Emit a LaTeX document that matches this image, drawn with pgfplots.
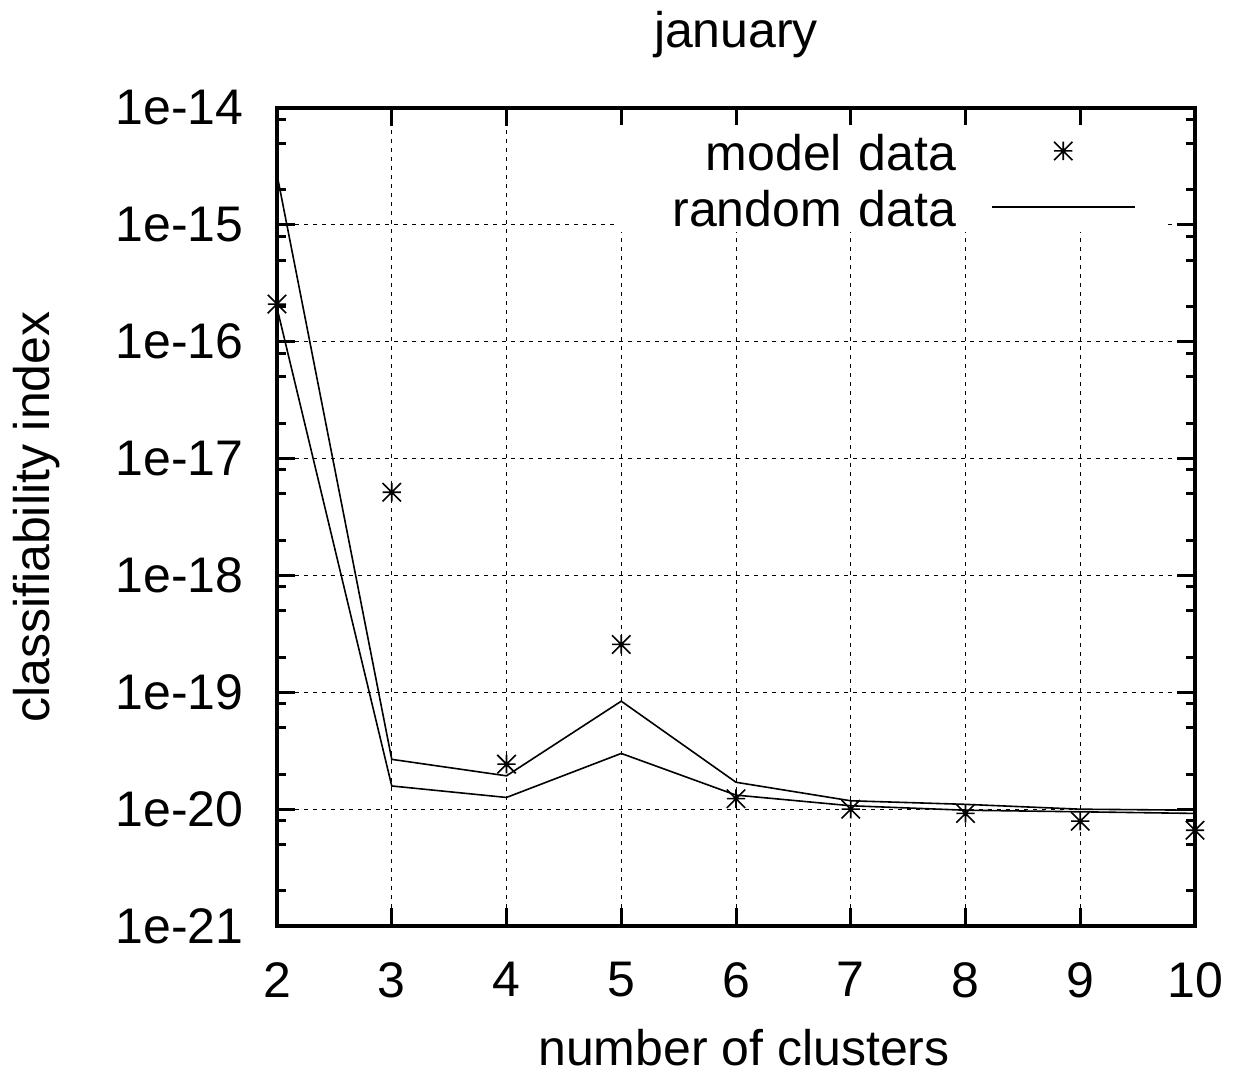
\documentclass[border=0pt]{standalone}
\usepackage{fontspec}
\setmainfont{Liberation Sans}
\usepackage{pgfplots}
\pgfplotsset{compat=1.18}

% eight-armed asterisk: a plus and a cross of equal size
\pgfdeclareplotmark{gpstar}{%
  \pgfpathmoveto{\pgfqpoint{-\pgfplotmarksize}{0pt}}%
  \pgfpathlineto{\pgfqpoint{\pgfplotmarksize}{0pt}}%
  \pgfpathmoveto{\pgfqpoint{0pt}{-\pgfplotmarksize}}%
  \pgfpathlineto{\pgfqpoint{0pt}{\pgfplotmarksize}}%
  \pgfpathmoveto{\pgfqpoint{-\pgfplotmarksize}{-\pgfplotmarksize}}%
  \pgfpathlineto{\pgfqpoint{\pgfplotmarksize}{\pgfplotmarksize}}%
  \pgfpathmoveto{\pgfqpoint{-\pgfplotmarksize}{\pgfplotmarksize}}%
  \pgfpathlineto{\pgfqpoint{\pgfplotmarksize}{-\pgfplotmarksize}}%
  \pgfusepathqstroke}

\begin{document}
\begin{tikzpicture}[font=\fontsize{25}{30}\selectfont]
\path[use as bounding box] (-138.5pt,-79pt) rectangle (478.5pt,463pt);
\begin{axis}[
  at={(0pt,0pt)}, anchor=south west,
  scale only axis, width=459pt, height=409pt,
  xmin=2, xmax=10,
  ymode=log, ymin=1e-21, ymax=1e-14,
  xtick={2,3,4,5,6,7,8,9,10},
  ytick={1e-21,1e-20,1e-19,1e-18,1e-17,1e-16,1e-15,1e-14},
  yticklabels={1e-21,1e-20,1e-19,1e-18,1e-17,1e-16,1e-15,1e-14},
  minor ytick={2e-21,5e-21,8e-21,2e-20,5e-20,8e-20,2e-19,5e-19,8e-19,
               2e-18,5e-18,8e-18,2e-17,5e-17,8e-17,2e-16,5e-16,8e-16,
               2e-15,5e-15,8e-15},
  grid=major,
  major grid style={black, line width=0.5pt, dash pattern=on 2pt off 2.5pt},
  tick align=inside,
  major tick length=9pt, minor tick length=4.5pt,
  every tick/.append style={black, line width=1.5pt},
  axis line style={line width=2pt},
  /pgf/number format/assume math mode=true,
  xticklabel style={anchor=north, inner sep=0pt, yshift=-18pt},
  yticklabel style={anchor=east, inner sep=0pt, xshift=-16.5pt},
  title=january,
  title style={at={(axis description cs:0.5,1)}, anchor=base, inner sep=0pt, yshift=24.5pt},
  xlabel=number of clusters,
  xlabel style={at={([xshift=4pt,yshift=-69.5pt]axis description cs:0.5,0)}, anchor=base, inner sep=0pt},
  ylabel=classifiability index,
  ylabel style={at={([xshift=-113.5pt]axis description cs:0,0.5)}, anchor=base, inner sep=0pt},
  clip=false,
  legend cell align=right,
  legend plot pos=right,
  legend image code/.code={\draw[mark repeat=2,mark phase=2,#1]
    plot coordinates {(0pt,0pt) (35.75pt,0pt) (71.5pt,0pt)};},
  legend style={
    at={(0.9673,0.9792)}, anchor=north east,
    fill=white, draw=none,
    inner xsep=14.5pt, inner ysep=3pt,
    row sep=8.5pt, column sep=17.5pt,
    nodes={inner sep=0pt, text height=19.5pt, text depth=0pt,
           text width=155.5pt, align=right},
  },
]
% classifiability index of the model data
\addplot[only marks, mark=gpstar, mark size=4.6pt, line width=0.8pt, black]
  coordinates {(2,2.1e-16) (3,5.15e-18) (4,2.43e-20) (5,2.57e-19) (6,1.23e-20)
               (7,1.0e-20) (8,9.2e-21) (9,7.9e-21) (10,6.6e-21)};
\addlegendentry{model data}
% random data: upper and lower curves
\addplot[black, line width=0.8pt, mark=none]
  coordinates {(2,2.7e-15) (3,2.67e-20) (4,1.93e-20) (5,8.4e-20) (6,1.7e-20)
               (7,1.18e-20) (8,1.1e-20) (9,1.0e-20) (10,9.8e-21)};
\addlegendentry{random data}
\addplot[black, line width=0.8pt, mark=none, forget plot]
  coordinates {(2,1.95e-16) (3,1.58e-20) (4,1.26e-20) (5,3.0e-20) (6,1.32e-20)
               (7,1.07e-20) (8,9.8e-21) (9,9.5e-21) (10,9.2e-21)};
\end{axis}
\end{tikzpicture}
\end{document}
